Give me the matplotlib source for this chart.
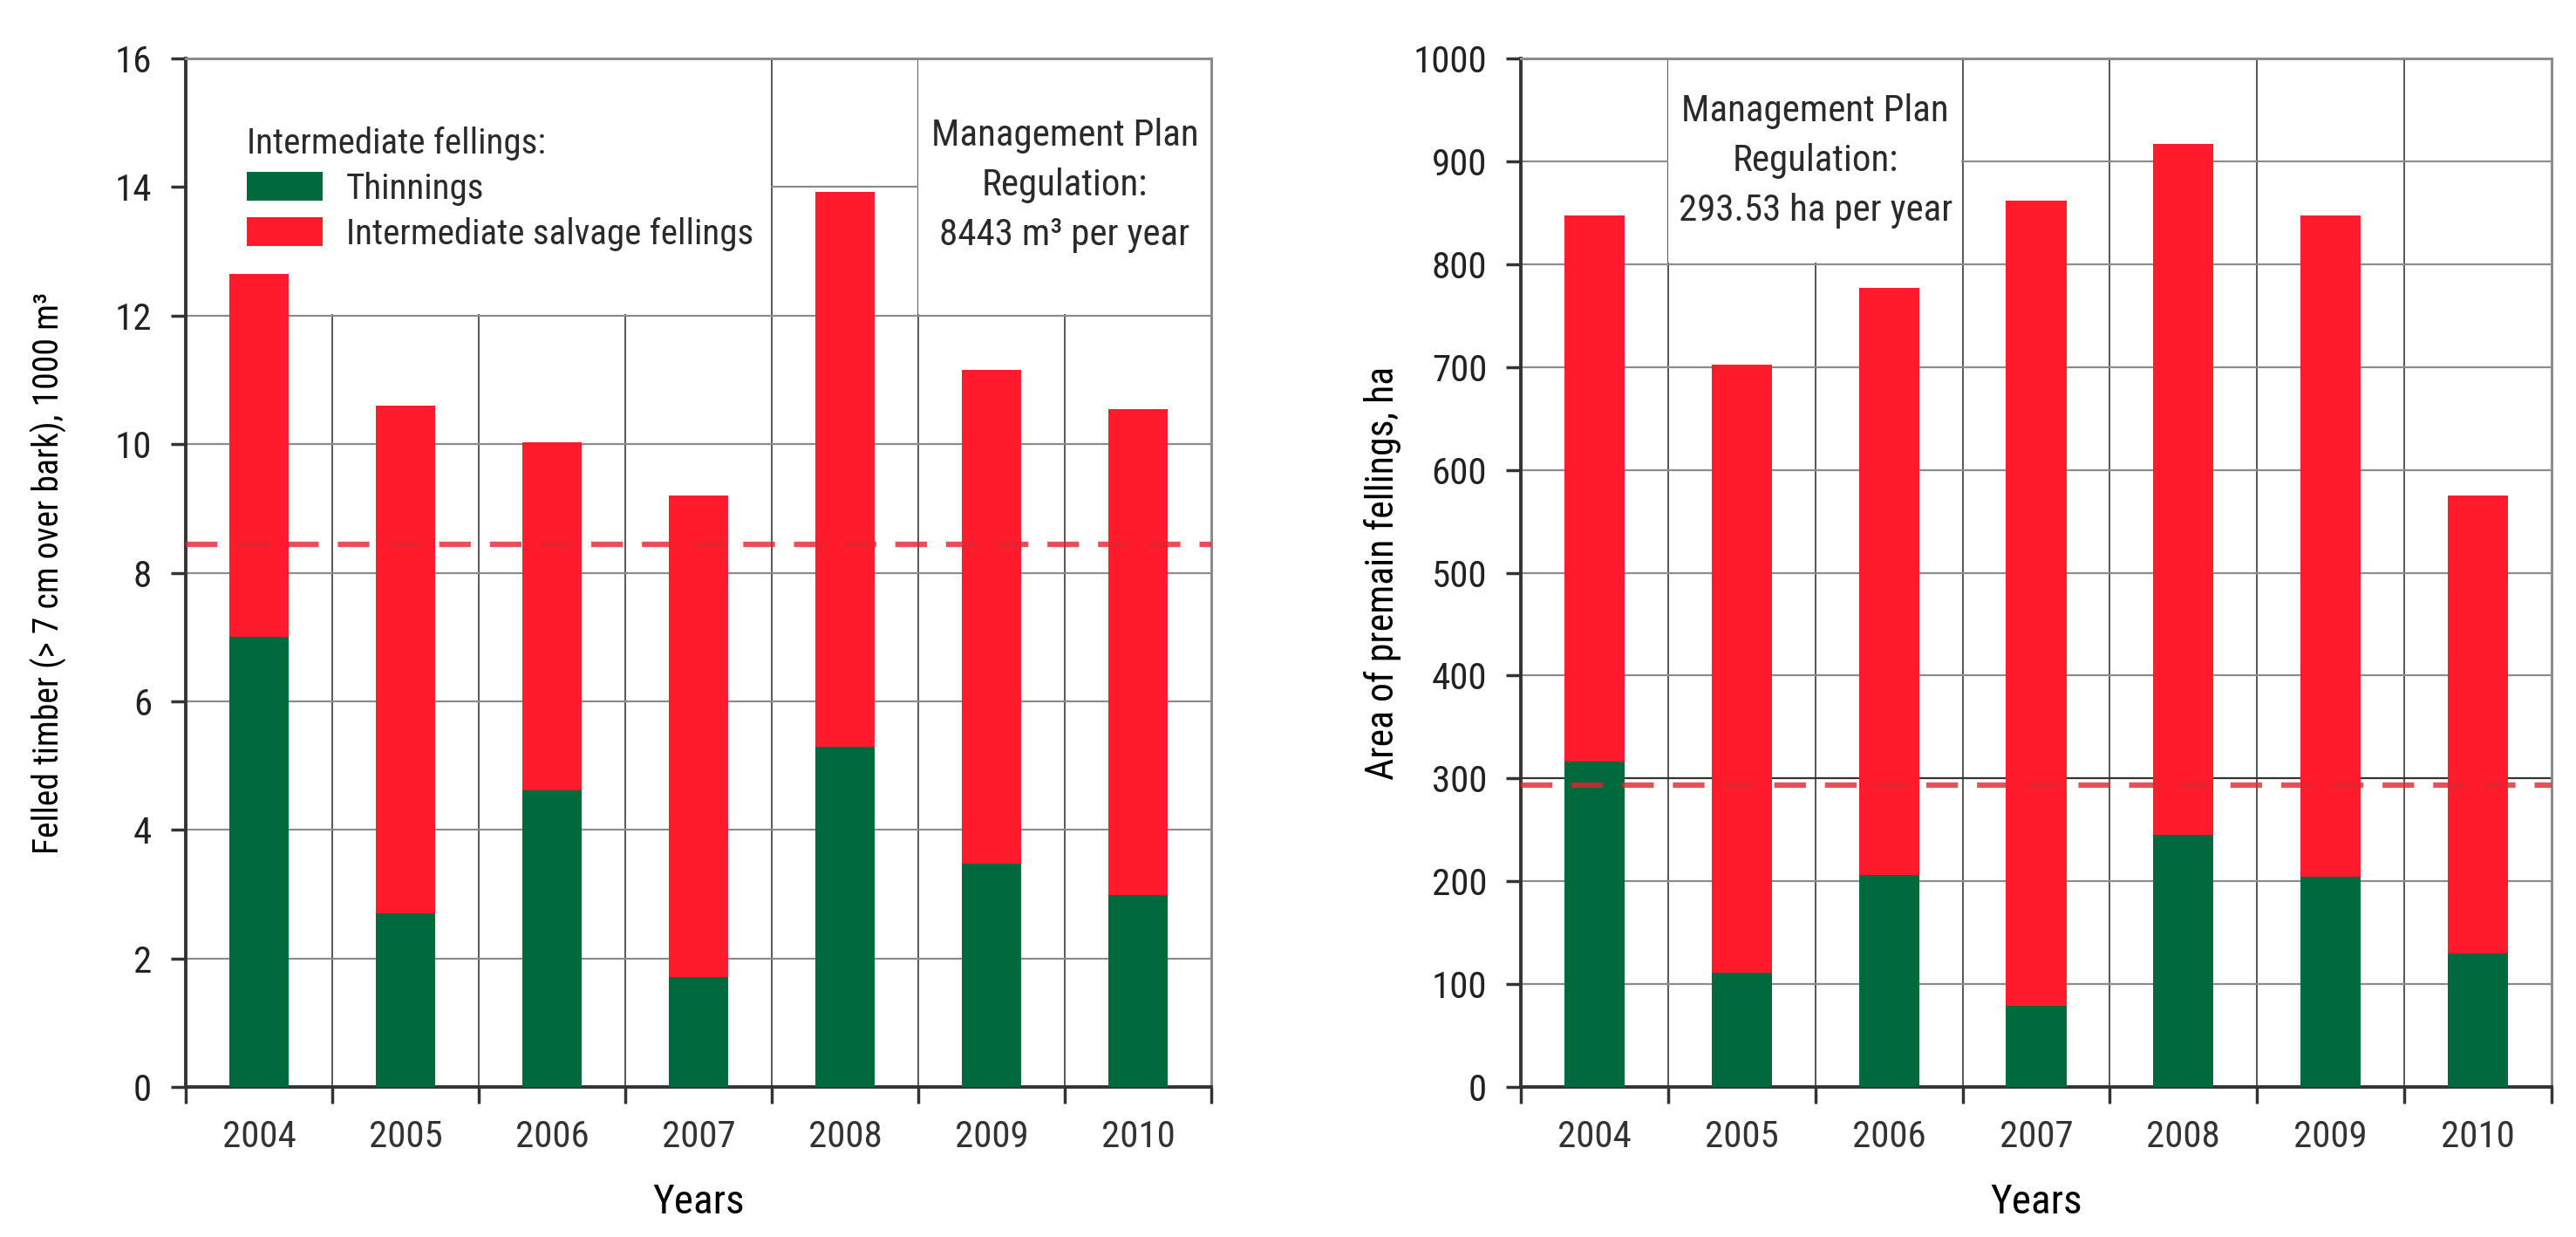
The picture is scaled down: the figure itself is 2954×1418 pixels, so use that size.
import matplotlib
matplotlib.use('Agg')
import matplotlib.pyplot as plt
import numpy as np
from matplotlib import font_manager
from matplotlib.patches import Rectangle, Patch

years = ['2004', '2005', '2006', '2007', '2008', '2009', '2010']

# left panel: felled timber, 1000 m3
timber_thin = [7.0, 2.7, 4.62, 1.71, 5.29, 3.48, 2.99]
timber_total = [12.65, 10.6, 10.03, 9.2, 13.93, 11.15, 10.55]
timber_reg = 8.443

# right panel: area of premain fellings, ha
area_thin = [316, 111, 206, 79, 245, 204, 130]
area_total = [847, 702, 777, 862, 917, 847, 575]
area_reg = 293.53

green = '#006a3c'
red = '#ff1a2c'

# the original uses a narrow sans; take one if there is any
names = {f.name for f in font_manager.fontManager.ttflist}
fam = 'Liberation Sans'
for n in ['Liberation Sans Narrow', 'Roboto Condensed', 'Open Sans Condensed']:
    if n in names:
        fam = n
        break
k = 1.0 if fam != 'Liberation Sans' else 0.9   # size factor for the fallback
fs = 31 * k
plt.rcParams['font.family'] = [fam, 'DejaVu Sans']
plt.rcParams['text.color'] = '#2a2a2a'


def panel(ax, thin, total, reg, ymax, ystep, ylabel, ylab_fs, boxes):
    x = np.arange(len(years))
    thin = np.array(thin, dtype=float)
    salv = np.array(total, dtype=float) - thin
    ax.bar(x, thin, width=0.41, color=green, zorder=3)
    ax.bar(x, salv, bottom=thin, width=0.41, color=red, zorder=3)
    ax.axhline(reg, color='#e0262f', lw=4.5, dashes=(5.8, 3.5), alpha=0.8, zorder=4)

    ax.set_xlim(-0.5, len(years) - 0.5)
    ax.set_ylim(0, ymax)
    ax.set_yticks(np.arange(0, ymax + ystep / 2, ystep))
    ax.set_xticks(x)
    ax.set_xticklabels(years)
    ax.set_xticks(np.arange(-0.5, len(years), 1), minor=True)

    ax.set_axisbelow(True)
    ax.grid(axis='y', which='major', color='#8c8c8c', lw=1.6)
    ax.grid(axis='x', which='minor', color='#555555', lw=1.4)
    ax.grid(axis='x', which='major', visible=False)

    # white boxes hiding the grid behind legend / notes
    dx, dy = 0.008, ymax * 0.0012
    for x0, x1, y0 in boxes:
        ax.add_patch(Rectangle((x0, y0 + dy), x1 - x0 - dx, ymax - y0,
                               facecolor='white', edgecolor='none', zorder=0.7))

    ax.tick_params(axis='x', which='major', length=0, pad=27, labelsize=fs,
                   labelcolor='#333333')
    ax.tick_params(axis='x', which='minor', length=14, width=2.5, direction='out',
                   color='#333333')
    ax.tick_params(axis='y', length=12, width=2.5, direction='out', pad=16,
                   labelsize=fs, color='#333333', labelcolor='#222222')
    for s in ['left', 'bottom']:
        ax.spines[s].set_color('#333333')
        ax.spines[s].set_linewidth(2.8)
    for s in ['top', 'right']:
        ax.spines[s].set_color('#8c8c8c')
        ax.spines[s].set_linewidth(2.2)

    ax.set_xlabel('Years', fontsize=fs + 3)
    ax.xaxis.set_label_coords(0.5, -0.093)
    ax.set_ylabel(ylabel, fontsize=ylab_fs)
    ax.yaxis.set_label_coords(-0.116, 0.5)


fig = plt.figure(figsize=(29.54, 14.18), dpi=100)
ax1 = fig.add_axes([0.0721, 0.1213, 0.3981, 0.8314])
ax2 = fig.add_axes([0.5904, 0.1213, 0.4001, 0.8314])

panel(ax1, timber_thin, timber_total, timber_reg, 16, 2,
      'Felled timber (> 7 cm over bark), 1000 m\u00b3', 28.5 * k,
      [(-0.5, 3.5, 12), (4.5, 6.5, 12)])
panel(ax2, area_thin, area_total, area_reg, 1000, 100,
      'Area of premain fellings, ha', 31.5 * k,
      [(0.5, 2.5, 800)])
ax2.get_ygridlines()[3].set_color('#333333')

handles = [Patch(facecolor=green, label='Thinnings'),
           Patch(facecolor=red, label='Intermediate salvage fellings')]
ax1.legend(handles=handles, title='Intermediate fellings:', loc='upper left',
           bbox_to_anchor=(0.046, 0.948), frameon=False, alignment='left',
           fontsize=29.5 * k, title_fontsize=29.5 * k, handlelength=2.12,
           handleheight=0.85, handletextpad=0.65, labelspacing=0.32,
           borderaxespad=0)

ax1.text(5.5, 14.02, 'Management Plan\nRegulation:\n8443 m\u00b3 per year',
         ha='center', va='center', fontsize=fs, linespacing=1.5, zorder=5)
ax2.text(1.5, 900, 'Management Plan\nRegulation:\n293.53 ha per year',
         ha='center', va='center', fontsize=fs, linespacing=1.5, zorder=5)

fig.savefig('out.png', dpi=100, facecolor='white')
